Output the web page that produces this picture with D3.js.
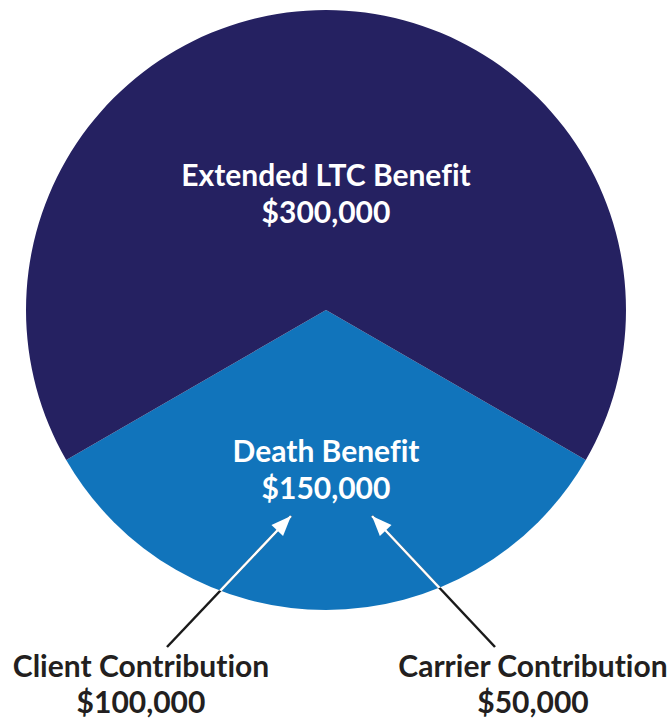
<!DOCTYPE html>
<html lang="en">
<head>
<meta charset="utf-8">
<title>Death benefit and extended LTC benefit</title>
<script src="https://cdn.jsdelivr.net/npm/d3@7"></script>
<style>
  body { margin: 0; background: #fff; }
  text { font-family: Lato, "Open Sans", sans-serif; font-weight: 700; font-variant-ligatures: none; }
</style>
</head>
<body>
<script>
// slices, in drawing order (death benefit sits at the bottom)
const sliceNames = ["Death Benefit", "Extended LTC Benefit"];
const sliceValues = [150000, 300000];
const sliceColors = ["#1174bb", "#252161"];

// the two parts of the death benefit
const contribNames = ["Client Contribution", "Carrier Contribution"];
const contribValues = [100000, 50000];

const width = 672, height = 721;
const cx = 326, cy = 310, radius = 300;
const fmt = v => "$" + d3.format(",")(v);

const svg = d3.select("body").append("svg")
  .attr("width", width)
  .attr("height", height);

const pie = d3.pie().sort(null)
  .startAngle(2 * Math.PI / 3)
  .endAngle(2 * Math.PI / 3 + 2 * Math.PI);
const arc = d3.arc().innerRadius(0).outerRadius(radius);

const g = svg.append("g").attr("transform", `translate(${cx},${cy})`);
const arcs = pie(sliceValues);

g.selectAll("path.slice")
  .data(arcs)
  .enter().append("path")
  .attr("class", "slice")
  .attr("d", arc)
  .attr("fill", (d, i) => sliceColors[i]);

// slice labels: offset from the centre (dy of the first line)
const labelDy = [152, -124];
arcs.forEach((d, i) => {
  const t = g.append("text")
    .attr("text-anchor", "middle")
    .attr("fill", "#fff")
    .attr("font-size", 30);
  t.append("tspan").attr("x", 0).attr("y", labelDy[i]).text(sliceNames[i]);
  t.append("tspan").attr("x", 0).attr("y", labelDy[i] + 37).text(fmt(sliceValues[i]));
});

// arrows: from below the pie up toward the death benefit figure
const defs = svg.append("defs");
defs.append("clipPath").attr("id", "inside")
  .append("circle").attr("cx", 0).attr("cy", 0).attr("r", radius);

const arrowFrom = [[-159, 337], [169, 337]];
const arrowTo = [[-35, 206], [46, 206]];

contribNames.forEach((name, i) => {
  const [x1, y1] = arrowFrom[i], [x2, y2] = arrowTo[i];
  g.append("line")
    .attr("x1", x1).attr("y1", y1).attr("x2", x2).attr("y2", y2)
    .attr("stroke", "#1a1a1a").attr("stroke-width", 2.5);
  g.append("line")
    .attr("clip-path", "url(#inside)")
    .attr("x1", x1).attr("y1", y1).attr("x2", x2).attr("y2", y2)
    .attr("stroke", "#fff").attr("stroke-width", 2.5);
  // arrow head drawn as a triangle at the tip
  const ang = Math.atan2(y2 - y1, x2 - x1);
  const len = 20, half = 8;
  const bx = x2 - len * Math.cos(ang), by = y2 - len * Math.sin(ang);
  const px = -Math.sin(ang) * half, py = Math.cos(ang) * half;
  g.append("path")
    .attr("d", `M${x2},${y2}L${bx + px},${by + py}L${bx - px},${by - py}Z`)
    .attr("fill", "#fff");
});

// contribution labels
const contribX = [141 - cx, 533 - cx];
contribNames.forEach((name, i) => {
  const t = g.append("text")
    .attr("text-anchor", "middle")
    .attr("fill", "#231f20")
    .attr("font-size", 30);
  t.append("tspan").attr("x", contribX[i]).attr("y", 367).text(name);
  t.append("tspan").attr("x", contribX[i]).attr("y", 403).text(fmt(contribValues[i]));
});
</script>
</body>
</html>
